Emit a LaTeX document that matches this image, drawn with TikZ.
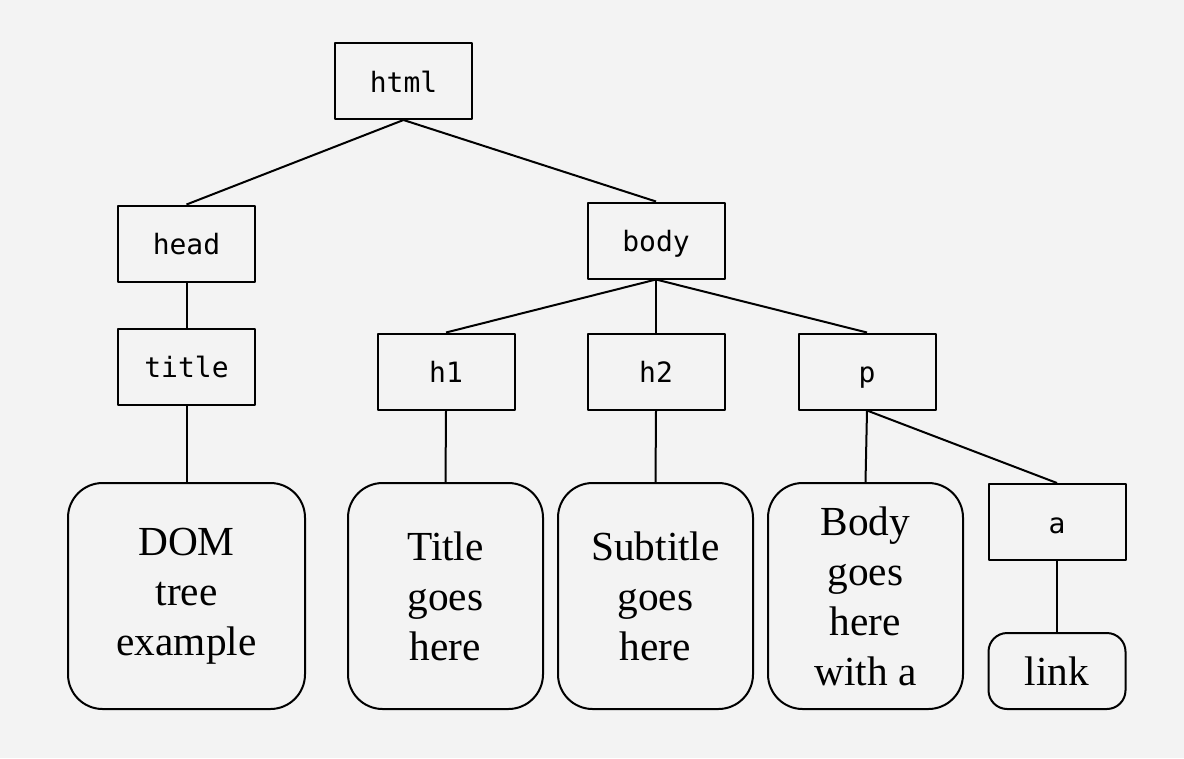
\documentclass[tikz,border=0pt]{standalone}
\usepackage{fontspec}
\setmainfont{Liberation Serif}
\setmonofont{DejaVu Sans Mono}
\definecolor{bgcol}{HTML}{F3F3F3}
\tikzset{
	tag/.style={draw, line width=1.5pt, rectangle, minimum width=102.75pt, minimum height=57pt, inner sep=0pt, text height=16.5pt, text depth=0pt, font=\fontsize{21}{24}\selectfont\ttfamily},
	leaf/.style={draw, line width=1.5pt, rounded corners=26pt, minimum width=146.25pt, minimum height=169.5pt, inner sep=0pt, align=center, font=\fontsize{31}{37.5}\selectfont},
	edge/.style={line width=1.5pt}
}
\begin{document}
\begin{tikzpicture}[x=0.75pt, y=-0.75pt, line join=round]
			\fill[bgcol] (0,0) rectangle (1184,758);
			\useasboundingbox (0,0) rectangle (1184,758);
			% tags
			\node[tag] (html) at (403.5,81) {html};
			\node[tag] (head) at (186.5,243.5) {head};
			\node[tag] (body) at (656,240.5) {body};
			\node[tag] (title) at (186.5,366.5) {title};
			\node[tag] (h1) at (446,371.5) {h1};
			\node[tag] (h2) at (656,371.5) {h2};
			\node[tag] (p) at (867,371.5) {p};
			\node[tag] (a) at (1057,522) {a};
			% text leaves
			\node[leaf, minimum width=177.75pt] (dom) at (186.5,596) {DOM\\tree\\example};
			\node[leaf] (ttl) at (445.5,596) {Title\\goes\\here};
			\node[leaf] (sub) at (655.5,596) {Subtitle\\goes\\here};
			\node[leaf] (bdy) at (865.5,596) {Body\\goes\\here\\with a};
			\node[leaf, rounded corners=14pt, minimum width=102.75pt, minimum height=57pt] (link) at (1057,671) {link};
			% edges
			\foreach \u/\v in {html/head, html/body, head/title, title/dom, body/h1, body/h2, body/p, h1/ttl, h2/sub, p/bdy, p/a, a/link}{
				\draw[edge] (\u.south) -- (\v.north);
			}
	\end{tikzpicture}
\end{document}
